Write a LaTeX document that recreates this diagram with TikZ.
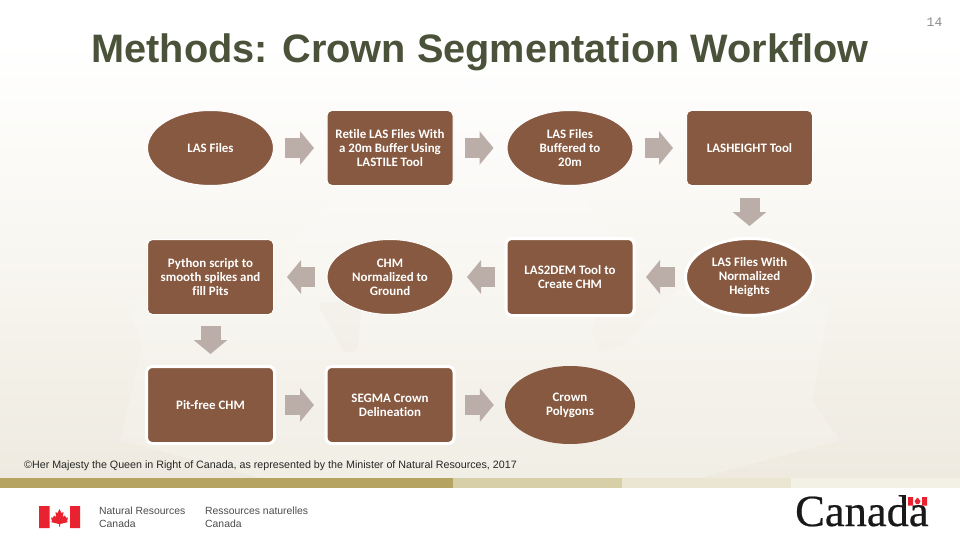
\documentclass[tikz,border=0pt]{standalone}
\usepackage{fontspec}
\setmainfont{Liberation Sans}
\setmonofont{Liberation Mono}
\newfontfamily\boxfont[Ligatures=NoCommon]{Carlito}
\newfontfamily\logofont[FakeBold=0.5]{Liberation Serif}
\usetikzlibrary{shapes.geometric,arrows.meta}
\definecolor{brownfill}{HTML}{875940}
\definecolor{arrowgrey}{HTML}{BBAEA9}
\definecolor{titlegreen}{HTML}{4A5239}
\definecolor{bgmid}{HTML}{F8F6F0}
\definecolor{bgbot}{HTML}{EEEAE0}
\definecolor{leafmid}{HTML}{F8F6F0}
\definecolor{leafbot}{HTML}{F3F0E8}
\definecolor{flagred}{HTML}{E8222E}
\tikzset{
 x=1pt,y=-1pt,
 shared/.style={draw=white,fill=brownfill,text=white,inner sep=0pt,align=center,font=\boxfont\bfseries\fontsize{12.9}{14}\selectfont},
 thinline/.style={line width=1pt,minimum width=126pt,minimum height=75pt},
 thickline/.style={line width=3pt,minimum width=128pt,minimum height=77pt},
 ellthin/.style={shared,ellipse,thinline},
 ellthick/.style={shared,ellipse,thickline},
 boxthin/.style={shared,rectangle,rounded corners=5pt,thinline},
 boxthick/.style={shared,rectangle,rounded corners=6pt,thickline},
 flow/.style={draw=arrowgrey,line width=20pt,-{Triangle[length=14pt,width=33pt,color=arrowgrey]}},
 logotext/.style={anchor=base west,text=black!70,font=\fontsize{10.4}{12}\selectfont,inner sep=0pt},
}
\begin{document}
\begin{tikzpicture}
\useasboundingbox (0,0) rectangle (960,540);
\fill[white] (0,0) rectangle (960,540);
\shade[top color=white,bottom color=bgmid] (0,40) rectangle (960,260);
\shade[top color=bgmid,bottom color=bgbot] (0,260) rectangle (960,478);
\shade[top color=white,middle color=leafmid,bottom color=leafbot,opacity=.75] (470,60) -- (447,100) -- (380,150) -- (290,240) -- (283,290) -- (125,298) -- (143,347) -- (120,440) -- (260,478) -- (700,478) -- (840,440) -- (812,400) -- (831,298) -- (677,290) -- (625,345) -- (600,352) -- (592,335) -- (612,235) -- (520,110) -- cycle;
\fill[bgbot,opacity=.35,rounded corners=6pt] (317,303) -- (345,354) -- (358,350) -- (362,300) -- cycle;
\fill[fill={rgb,255:red,181;green,164;blue,97}] (0,478) rectangle (453,488);
\fill[fill={rgb,255:red,214;green,207;blue,168}] (453,478) rectangle (622,488);
\fill[fill={rgb,255:red,234;green,230;blue,210}] (622,478) rectangle (791,488);
\fill[fill={rgb,255:red,243;green,240;blue,230}] (791,478) rectangle (960,488);
\node[anchor=base,text=titlegreen,font=\bfseries\fontsize{39.7}{44}\selectfont,inner sep=0pt] (title) at (480,63) {Methods: Crown Segmentation Workflow};
\node[text=black!45,font=\ttfamily\fontsize{13}{15}\selectfont,inner sep=0pt] (pageno) at (934.5,22) {14};
\node[ellthin] (a1) at (210.5,148) {LAS Files};
\node[boxthin] (a2) at (390,148) {Retile LAS Files With\\a 20m Buffer Using\\LASTILE Tool};
\node[ellthin] (a3) at (570,148) {LAS Files\\Buffered to\\20m};
\node[boxthin] (a4) at (749.5,148) {LASHEIGHT Tool};
\node[ellthick] (b4) at (749.5,277) {LAS Files With\\Normalized\\Heights};
\node[boxthick] (b3) at (570,277) {LAS2DEM Tool to\\Create CHM};
\node[ellthin] (b2) at (390,277) {CHM\\Normalized to\\Ground};
\node[boxthin] (b1) at (210.5,277) {Python script to\\smooth spikes and\\fill Pits};
\node[boxthick] (c1) at (210.5,405) {Pit-free CHM};
\node[boxthick] (c2) at (390,405) {SEGMA Crown\\Delineation};
\node[shared,ellipse,draw=none,minimum width=130pt,minimum height=78pt] (c3) at (570,405) {Crown\\Polygons};
\foreach \p/\q/\s/\e in {a1/a2/11/12.5,a2/a3/11.5/13,a3/a4/11.5/13,a4/b4/12/11,b4/b3/9/10.5,b3/b2/9.5/13.5,b2/b1/11.5/13,b1/c1/11/11,c1/c2/9/10.5,c2/c3/9.5/11}{\draw[flow,shorten <=\s pt,shorten >=\e pt] (\p) -- (\q);}
\node[anchor=base west,font=\fontsize{10.7}{12}\selectfont,inner sep=0pt,text=black!85] (copy) at (24,468.5) {©Her Majesty the Queen in Right of Canada, as represented by the Minister of Natural Resources, 2017};
\fill[flagred] (39,506) rectangle (49.5,528) (70,506) rectangle (80,528);
\fill[flagred] (59.5,509) -- (61.5,513) -- (63.5,512) -- (62.8,517) -- (65,515.5) -- (66,517.5) -- (68,517.5) -- (67,521) -- (68,522) -- (60,524) -- (60,526.5) -- (59,526.5) -- (59,524) -- (51,522) -- (52,521) -- (51,517.5) -- (53,517.5) -- (54,515.5) -- (56.2,517) -- (55.5,512) -- (57.5,513) -- cycle;
\node[logotext] (nrcan) at (99,514.5) {Natural Resources};
\node[logotext] (nrcan2) at (99,527) {Canada};
\node[logotext] (rncan) at (205,514.5) {Ressources naturelles};
\node[logotext] (rncan2) at (205,527) {Canada};
\node[anchor=base west,text=black!90,font=\logofont\fontsize{44.5}{48}\selectfont,inner sep=0pt] (logo) at (795,526) {Canada};
\fill[flagred] (908,497) rectangle (913,505.5) (922,497) rectangle (927,505.5);
\fill[flagred] (917.5,497.5) -- (920.5,501) -- (919,504) -- (916,504) -- (914.5,501) -- cycle;
\end{tikzpicture}
\end{document}
